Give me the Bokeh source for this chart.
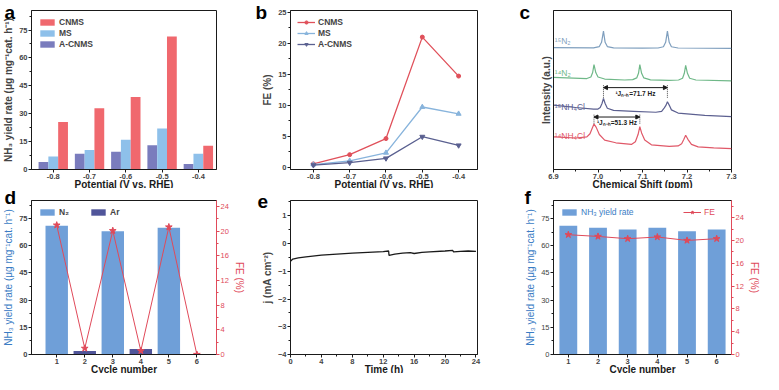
from bokeh.plotting import figure
from bokeh.layouts import gridplot
from bokeh.models import (ColumnDataSource, Range1d, LinearAxis, Legend, LegendItem, Title,
                          Label, Arrow, NormalHead, FixedTicker, SingleIntervalTicker)
from bokeh.transform import dodge
from bokeh.embed import file_html
from bokeh.resources import INLINE

FONT = "Liberation Sans"

# ---------------- data ----------------
potentials = [-0.8, -0.7, -0.6, -0.5, -0.4]
potential_labels = ["-0.8", "-0.7", "-0.6", "-0.5", "-0.4"]
yield_cnms = [25.5, 33.0, 39.0, 71.5, 12.8]
yield_ms = [7.0, 10.5, 16.0, 22.0, 8.5]
yield_acnms = [4.0, 8.5, 9.5, 13.0, 3.0]

fe_cnms = [0.5, 2.0, 4.6, 21.0, 14.7]
fe_ms = [0.4, 1.0, 2.3, 9.7, 8.6]
fe_acnms = [0.3, 0.7, 1.4, 4.9, 3.5]

# NMR spectra (chemical shift ppm, intensity a.u.)
n15_2_x = [6.9, 6.99, 7.003, 7.008, 7.0123, 7.016, 7.021, 7.035, 7.10, 7.135, 7.147, 7.152, 7.156, 7.160, 7.165, 7.18, 7.3]
n15_2_y = [76.6, 76.5, 77.3, 80.0, 87.0, 80.0, 77.3, 76.5, 76.3, 76.4, 77.2, 80.0, 87.0, 80.0, 77.2, 76.4, 76.2]
n14_2_x = [6.9, 6.975, 6.984, 6.988, 6.991, 6.995, 7.0, 7.015, 7.06, 7.078, 7.087, 7.091, 7.094, 7.098, 7.103, 7.118,
           7.16, 7.181, 7.19, 7.194, 7.197, 7.201, 7.206, 7.22, 7.3]
n14_2_y = [58.0, 57.2, 58.2, 61.0, 66.0, 61.0, 58.2, 56.9, 56.3, 56.5, 57.6, 60.5, 66.0, 60.5, 57.6, 56.4,
           56.0, 56.3, 57.4, 60.5, 65.5, 60.5, 57.4, 56.3, 55.8]
n15_cl_x = [6.9, 6.95, 6.99, 7.0, 7.005, 7.009, 7.0123, 7.016, 7.021, 7.035, 7.08, 7.13, 7.143, 7.149, 7.153, 7.156,
            7.16, 7.165, 7.18, 7.24, 7.3]
n15_cl_y = [40.5, 39.0, 38.0, 38.0, 39.0, 41.5, 44.7, 41.5, 38.5, 37.2, 36.6, 36.0, 36.6, 38.8, 40.5, 42.6,
            40.5, 37.5, 35.5, 34.0, 33.2]
n14_cl_x = [6.9, 6.95, 6.975, 6.982, 6.987, 6.991, 6.996, 7.003, 7.015, 7.04, 7.075, 7.084, 7.09, 7.094, 7.098, 7.105,
            7.12, 7.16, 7.18, 7.188, 7.193, 7.197, 7.202, 7.21, 7.225, 7.26, 7.3]
n14_cl_y = [20.5, 19.8, 20.5, 22.5, 26.0, 28.6, 26.5, 22.0, 18.5, 16.8, 15.8, 17.5, 22.0, 26.9, 23.0, 18.5,
            15.5, 14.6, 14.8, 16.2, 19.0, 21.5, 19.0, 15.8, 14.2, 13.6, 13.1]
j15_peaks = [7.0123, 7.156]
j14_peaks = [6.991, 7.094]
shift_ticks = [6.9, 7.0, 7.1, 7.2, 7.3]
shift_labels = ["6.9", "7.0", "7.1", "7.2", "7.3"]

cycles = [1, 2, 3, 4, 5, 6]
cycle_labels = ["1", "2", "3", "4", "5", "6"]
n2_cycles = [1, 3, 5]
n2_yield = [71.0, 68.0, 70.0]
ar_cycles = [2, 4, 6]
ar_yield = [2.0, 3.0, 0.0]
fe_gas = [21.0, 1.0, 20.1, 0.6, 20.7, 0.0]

time_h = [0, 0.3, 1, 2, 4, 6, 8, 10, 12, 12.7, 12.75, 13.5, 14.5, 15.5, 16, 17, 18, 20, 21, 21.1, 22, 23, 24]
current_j = [-0.64, -0.56, -0.52, -0.48, -0.42, -0.38, -0.35, -0.32, -0.29, -0.27, -0.43, -0.38, -0.35, -0.33,
             -0.36, -0.32, -0.30, -0.27, -0.25, -0.30, -0.28, -0.27, -0.28]

stab_yield = [71.0, 70.0, 69.0, 70.0, 68.0, 69.0]
stab_fe = [21.0, 20.7, 20.3, 20.6, 20.0, 20.3]

# ---------------- styles ----------------
C_CNMS = "#f0686e"
C_MS = "#8ec0ea"
C_ACNMS = "#7a7cbd"
L_CNMS = "#e0505a"
L_MS = "#88b4dc"
L_ACNMS = "#5a6090"
C_BAR = "#6f9fd8"
C_AR = "#50559a"
C_RED = "#e04a5a"
C_BLUE_TXT = "#3a7cc4"
INK = "#1a1a1a"


def style(p):
    p.grid.visible = False
    p.outline_line_color = INK
    p.outline_line_width = 1
    p.background_fill_color = "white"
    p.border_fill_color = "white"
    for ax in p.axis:
        ax.axis_label_text_font = FONT
        ax.axis_label_text_font_style = "bold"
        ax.axis_label_text_font_size = "10px"
        ax.axis_label_standoff = 2
        ax.major_label_text_font = FONT
        ax.major_label_text_font_style = "bold"
        ax.major_label_text_font_size = "7.5px"
        ax.major_label_standoff = 1
        ax.major_tick_in = 0
        ax.major_tick_out = 3
        ax.minor_tick_in = 0
        ax.minor_tick_out = 2
        ax.axis_line_color = INK
        ax.major_tick_line_color = INK
        ax.minor_tick_line_color = INK


def xlabel(p, text):
    p.add_layout(Title(text=text, align="center", vertical_align="top", standoff=-6, text_font=FONT,
                       text_font_style="bold", text_font_size="10px", text_color=INK), "below")


def right_axis(p, rng_name, ticker, label, color):
    ax = LinearAxis(y_range_name=rng_name, ticker=ticker, axis_label=label)
    ax.axis_label_text_font = FONT
    ax.axis_label_text_font_size = "10px"
    ax.axis_label_text_font_style = "normal"
    ax.axis_label_text_color = color
    ax.axis_label_standoff = 2
    ax.major_label_text_font = FONT
    ax.major_label_text_font_size = "7.5px"
    ax.major_label_text_color = color
    ax.major_label_standoff = 1
    ax.major_tick_in = 0
    ax.major_tick_out = 3
    ax.minor_tick_in = 0
    ax.minor_tick_out = 2
    ax.axis_line_color = color
    ax.major_tick_line_color = color
    ax.minor_tick_line_color = color
    p.add_layout(ax, "right")
    return ax


def legend_style(lg, size="8.5px", bold=True):
    lg.border_line_alpha = 0
    lg.background_fill_alpha = 0
    lg.label_text_font = FONT
    lg.label_text_font_size = size
    lg.label_text_font_style = "bold" if bold else "normal"
    lg.glyph_width = 18
    lg.glyph_height = 8
    lg.label_height = 8
    lg.label_standoff = 3
    lg.spacing = 1
    lg.padding = 2
    lg.margin = 5


def letter(p, ch, offset, standoff):
    t = p.title
    t.text = ch
    t.text_font = FONT
    t.text_font_style = "bold"
    t.text_font_size = "19px"
    t.text_color = "black"
    t.align = "left"
    t.offset = offset
    t.standoff = standoff
    t.vertical_align = "bottom"


def fig(w, h, xr, yr, bl, br, bt, bb):
    return figure(width=w, height=h, x_range=xr, y_range=yr, output_backend="svg", toolbar_location=None,
                  min_border_left=bl, min_border_right=br, min_border_top=bt, min_border_bottom=bb)


# ---------------- panel a ----------------
pa = fig(255, 188, Range1d(-0.86, -0.35), Range1d(0, 85.5), 28, 36, 10, 5)
src_a = ColumnDataSource(dict(x=potentials, cnms=yield_cnms, ms=yield_ms, acnms=yield_acnms))
ra1 = pa.vbar(x=dodge("x", -0.027, range=pa.x_range), top="acnms", width=0.027, source=src_a,
              fill_color=C_ACNMS, line_color=None)
ra2 = pa.vbar(x="x", top="ms", width=0.027, source=src_a, fill_color=C_MS, line_color=None)
ra3 = pa.vbar(x=dodge("x", 0.027, range=pa.x_range), top="cnms", width=0.027, source=src_a,
              fill_color=C_CNMS, line_color=None)
pa.xaxis.ticker = FixedTicker(ticks=potentials)
pa.xaxis.major_label_overrides = dict(zip(potentials, potential_labels))
pa.yaxis.ticker = SingleIntervalTicker(interval=15, num_minor_ticks=2)
pa.yaxis.axis_label = "NH\u2083 yield rate (\u03bcg mg\u207b\u00b9cat. h\u207b\u00b9)"
style(pa)
xlabel(pa, "Potential (V vs. RHE)")
lga = Legend(items=[LegendItem(label="CNMS", renderers=[ra3]), LegendItem(label="MS", renderers=[ra2]),
                    LegendItem(label="A-CNMS", renderers=[ra1])], location="top_left")
legend_style(lga)
pa.add_layout(lga)
letter(pa, "a", -27, -24)

# ---------------- panel b ----------------
pb = fig(255, 188, Range1d(-0.863, -0.348), Range1d(-0.4, 25.3), 35, 33, 10, 5)
rb1 = pb.line(potentials, fe_cnms, line_color=L_CNMS, line_width=1.3)
sb1 = pb.scatter(potentials, fe_cnms, marker="circle", size=4, fill_color=L_CNMS, line_color=L_CNMS)
rb2 = pb.line(potentials, fe_ms, line_color=L_MS, line_width=1.3)
sb2 = pb.scatter(potentials, fe_ms, marker="triangle", size=5, fill_color=L_MS, line_color=L_MS)
rb3 = pb.line(potentials, fe_acnms, line_color=L_ACNMS, line_width=1.3)
sb3 = pb.scatter(potentials, fe_acnms, marker="inverted_triangle", size=5, fill_color=L_ACNMS, line_color=L_ACNMS)
pb.xaxis.ticker = FixedTicker(ticks=potentials)
pb.xaxis.major_label_overrides = dict(zip(potentials, potential_labels))
pb.yaxis.ticker = SingleIntervalTicker(interval=5, num_minor_ticks=2)
pb.yaxis.axis_label = "FE (%)"
style(pb)
xlabel(pb, "Potential (V vs. RHE)")
lgb = Legend(items=[LegendItem(label="CNMS", renderers=[rb1, sb1]), LegendItem(label="MS", renderers=[rb2, sb2]),
                    LegendItem(label="A-CNMS", renderers=[rb3, sb3])], location="top_left")
legend_style(lgb)
pb.add_layout(lgb)
letter(pb, "b", -35, -24)

# ---------------- panel c ----------------
pc = fig(252, 188, Range1d(6.9, 7.3), Range1d(0, 100), 43, 15, 10, 5)
spectra = [(n15_2_x, n15_2_y, "#7f9fbe", "\u00b9\u2075N\u2082", 81),
           (n14_2_x, n14_2_y, "#6fb888", "\u00b9\u2074N\u2082", 61),
           (n15_cl_x, n15_cl_y, "#5c6090", "\u00b9\u2075NH\u2084Cl", 39.5),
           (n14_cl_x, n14_cl_y, "#e05868", "\u00b9\u2074NH\u2084Cl", 21)]
for xs, ys, col, lab, ly in spectra:
    pc.line(xs, ys, line_color=col, line_width=1.2)
    pc.add_layout(Label(x=6.903, y=ly, text=lab, text_color=col, text_font=FONT, text_font_size="8.5px",
                        text_baseline="middle"))
for peaks, ytop, ybot, txt in [(j15_peaks, 51.5, 45, "\u00b9J\u2099\u208b\u2095=71.7 Hz"),
                               (j14_peaks, 33.0, 28.5, "\u00b9J\u2099\u208b\u2095=51.3 Hz")]:
    pc.segment(x0=peaks, y0=[ytop + 1.5] * 2, x1=peaks, y1=[ybot] * 2, line_color=INK, line_width=0.8,
               line_dash="1 1")
    pc.add_layout(Arrow(x_start=peaks[0], y_start=ytop, x_end=peaks[1], y_end=ytop, line_color=INK, line_width=1,
                        start=NormalHead(size=4, fill_color=INK, line_color=INK),
                        end=NormalHead(size=4, fill_color=INK, line_color=INK)))
    pc.add_layout(Label(x=(peaks[0] + peaks[1]) / 2, y=ytop - 1.5, text=txt, text_color=INK, text_font=FONT,
                        text_font_size="6.5px", text_font_style="bold", text_align="center", text_baseline="top"))
pc.xaxis.ticker = FixedTicker(ticks=shift_ticks, minor_ticks=[6.95, 7.05, 7.15, 7.25])
pc.xaxis.major_label_overrides = dict(zip(shift_ticks, shift_labels))
pc.yaxis.ticker = FixedTicker(ticks=[])
pc.yaxis.axis_label = "Intensity (a.u.)"
style(pc)
xlabel(pc, "Chemical Shift (ppm)")
letter(pc, "c", -34, -24)

# ---------------- panel d ----------------
pd_ = fig(255, 185, Range1d(0.1, 6.7), Range1d(0, 85), 28, 39, 12, 5)
pd_.extra_y_ranges = {"fe": Range1d(0, 25)}
rd1 = pd_.vbar(x=n2_cycles, top=n2_yield, width=0.8, fill_color=C_BAR, line_color=None)
rd2 = pd_.vbar(x=ar_cycles, top=ar_yield, width=0.8, fill_color=C_AR, line_color=None)
pd_.line(cycles, fe_gas, y_range_name="fe", line_color=C_RED, line_width=1)
pd_.scatter(cycles, fe_gas, y_range_name="fe", marker="star", size=7, fill_color=C_RED, line_color=C_RED)
pd_.xaxis.ticker = FixedTicker(ticks=cycles)
pd_.xaxis.major_label_overrides = dict(zip(cycles, cycle_labels))
pd_.yaxis.ticker = SingleIntervalTicker(interval=15, num_minor_ticks=2)
pd_.yaxis.axis_label = "NH\u2083 yield rate (\u03bcg mg\u207b\u00b9cat. h\u207b\u00b9)"
style(pd_)
xlabel(pd_, "Cycle number")
pd_.yaxis.axis_label_text_color = C_BLUE_TXT
pd_.yaxis.axis_label_text_font_style = "normal"
right_axis(pd_, "fe", SingleIntervalTicker(interval=4, num_minor_ticks=2), "FE (%)", C_RED)
lgd = Legend(items=[LegendItem(label="N\u2082", renderers=[rd1]), LegendItem(label="Ar", renderers=[rd2])],
             location="top_left", orientation="horizontal")
legend_style(lgd)
lgd.spacing = 10
pd_.add_layout(lgd)
letter(pd_, "d", -27, -14)

# ---------------- panel e ----------------
pe = fig(255, 185, Range1d(0, 24.2), Range1d(-4, 1.55), 35, 27, 12, 5)
pe.line(time_h, current_j, line_color=INK, line_width=1.3)
pe.xaxis.ticker = SingleIntervalTicker(interval=4, num_minor_ticks=2)
pe.yaxis.ticker = SingleIntervalTicker(interval=1, num_minor_ticks=2)
pe.yaxis.axis_label = "j (mA cm\u207b\u00b2)"
style(pe)
xlabel(pe, "Time (h)")
letter(pe, "e", -33, -14)

# ---------------- panel f ----------------
pf = fig(252, 185, Range1d(0.5, 6.5), Range1d(0, 85), 43, 26, 12, 5)
pf.extra_y_ranges = {"fe": Range1d(0, 27)}
rf1 = pf.vbar(x=cycles, top=stab_yield, width=0.6, fill_color=C_BAR, line_color=None)
rf2 = pf.line(cycles, stab_fe, y_range_name="fe", line_color=C_RED, line_width=1)
rf3 = pf.scatter(cycles, stab_fe, y_range_name="fe", marker="star", size=7, fill_color=C_RED, line_color=C_RED)
pf.xaxis.ticker = FixedTicker(ticks=cycles)
pf.xaxis.major_label_overrides = dict(zip(cycles, cycle_labels))
pf.yaxis.ticker = SingleIntervalTicker(interval=15, num_minor_ticks=2)
pf.yaxis.axis_label = "NH\u2083 yield rate (\u03bcg mg\u207b\u00b9cat. h\u207b\u00b9)"
style(pf)
xlabel(pf, "Cycle number")
pf.yaxis.axis_label_text_color = C_BLUE_TXT
pf.yaxis.axis_label_text_font_style = "normal"
pf.yaxis.major_label_text_font_style = "normal"
right_axis(pf, "fe", SingleIntervalTicker(interval=4, num_minor_ticks=2), "FE (%)", C_RED)
lgf1 = Legend(items=[LegendItem(label="NH\u2083 yield rate", renderers=[rf1])], location="top_left")
legend_style(lgf1, bold=False)
lgf1.label_text_color = C_BLUE_TXT
lgf2 = Legend(items=[LegendItem(label="FE", renderers=[rf2, rf3])], location="top_right")
legend_style(lgf2, bold=False)
lgf2.label_text_color = C_RED
pf.add_layout(lgf1)
pf.add_layout(lgf2)
letter(pf, "f", -29, -14)

grid = gridplot([[pa, pb, pc], [pd_, pe, pf]], toolbar_location=None)

open("out.html", "w").write(file_html(grid, INLINE))
